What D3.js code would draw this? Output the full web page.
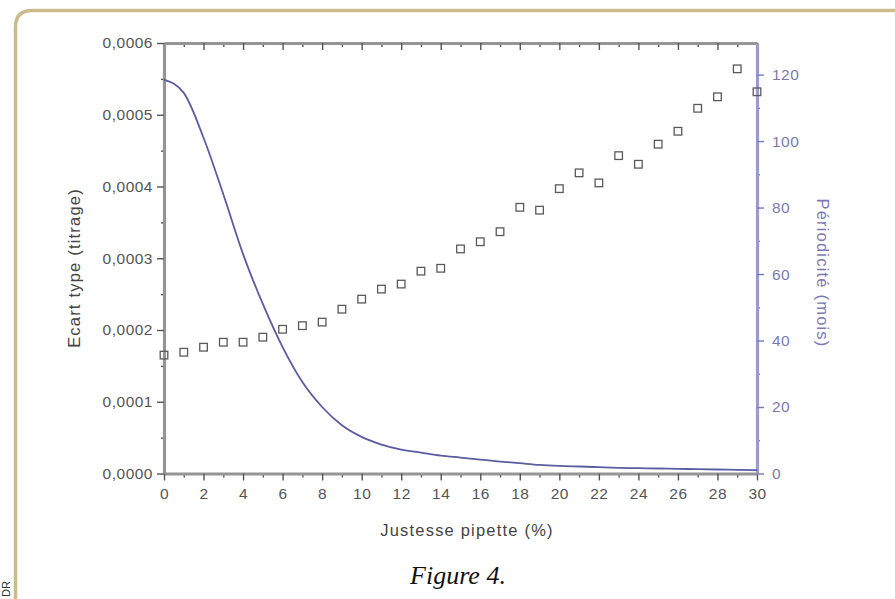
<!DOCTYPE html>
<html>
<head>
<meta charset="utf-8">
<script src="https://cdn.jsdelivr.net/npm/d3@7"></script>
<style>
  body { margin: 0; background: #fff; }
  svg { display: block; font-family: Arial, "Liberation Sans", sans-serif; }
</style>
</head>
<body>
<div id="chart"></div>
<script>
// justesse pipette (%), 0..30
const justesse = d3.range(0, 31);
// ecart type (titrage) - squares, left axis
const ecartType = [0.000165, 0.000169, 0.000176, 0.000183, 0.000183, 0.000190, 0.000201,
  0.000206, 0.000211, 0.000229, 0.000243, 0.000257, 0.000264, 0.000282, 0.000286,
  0.000313, 0.000323, 0.000337, 0.000371, 0.000367, 0.000397, 0.000419, 0.000405,
  0.000443, 0.000431, 0.000459, 0.000477, 0.000509, 0.000525, 0.000564, 0.000532];
// periodicite (mois) - line, right axis
const periodicite = [118.5, 114.5, 101, 84, 66, 51, 38, 27.5, 20, 14.5, 11, 8.7, 7.2, 6.3, 5.4,
  4.8, 4.2, 3.6, 3.1, 2.6, 2.3, 2.1, 1.9, 1.7, 1.6, 1.5, 1.4, 1.3, 1.2, 1.1, 1.0];

const xTicks = d3.range(0, 31, 2);
const leftTicks = [0, 0.0001, 0.0002, 0.0003, 0.0004, 0.0005, 0.0006];
const rightTicks = [0, 20, 40, 60, 80, 100, 120];

var width = 895, height = 599;
var svg = d3.select("#chart").append("svg")
    .attr("width", width)
    .attr("height", height);

// tan frame, only the top-left corner is visible
svg.append("path")
    .attr("d", "M15.5,599 L15.5,27 Q15.5,10.5 32,10.5 L895,10.5")
    .attr("fill", "none")
    .attr("stroke", "#cbbb8f")
    .attr("stroke-width", 3.5);

var x = d3.scaleLinear().domain([0, 30]).range([164, 757]);
var yL = d3.scaleLinear().domain([0, 0.0006]).range([473.5, 43]);
var yR = d3.scaleLinear().domain([0, 129.5]).range([473.5, 43]);

var grey = "#959595", blue = "#9c9ccc", blueTxt = "#7a7ab2";

function styleAxis(g, col, txtCol) {
  g.select(".domain").attr("stroke", col).attr("stroke-width", 3.2);
  g.selectAll(".tick line").attr("stroke", "#555").attr("stroke-width", 1.4);
  g.selectAll(".tick text").attr("fill", txtCol)
    .style("font-size", "15.5px").style("letter-spacing", "0.5px");
}
function minor(g, col) {
  g.select(".domain").remove();
  g.selectAll("line").attr("stroke", col).attr("stroke-width", 1.4);
}

// minor ticks first (drawn under the main axes)
svg.append("g").attr("transform", "translate(0,473.5)")
    .call(d3.axisBottom(x).tickValues(d3.range(1, 30, 2)).tickSize(4).tickFormat(""))
    .call(g => minor(g, "#555"));
svg.append("g").attr("transform", "translate(0,43)")
    .call(d3.axisBottom(x).tickValues(d3.range(1, 30, 2)).tickSize(4).tickFormat(""))
    .call(g => minor(g, "#555"));
svg.append("g").attr("transform", "translate(164,0)")
    .call(d3.axisLeft(yL).tickValues(d3.range(0.00005, 0.0006, 0.0001)).tickSize(3).tickFormat(""))
    .call(g => minor(g, "#555"));
svg.append("g").attr("transform", "translate(757,0)")
    .call(d3.axisRight(yR).tickValues([10, 30, 50, 70, 90, 110]).tickSize(3).tickFormat(""))
    .call(g => minor(g, blueTxt));

// top axis
svg.append("g").attr("transform", "translate(0,43)")
    .call(d3.axisBottom(x).tickValues(xTicks).tickSize(7).tickSizeOuter(0).tickFormat(""))
    .call(g => styleAxis(g, grey, "#555"));

// bottom axis
svg.append("g").attr("transform", "translate(0,473.5)")
    .call(d3.axisBottom(x).tickValues(xTicks).tickSize(7).tickSizeOuter(0).tickPadding(7))
    .call(g => styleAxis(g, grey, "#555"));

// left axis
svg.append("g").attr("transform", "translate(164,0)")
    .call(d3.axisLeft(yL).tickValues(leftTicks).tickSize(7).tickSizeOuter(0).tickPadding(4)
      .tickFormat(d => d3.format(".4f")(d).replace(".", ",")))
    .call(g => styleAxis(g, grey, "#555"));

// right axis
svg.append("g").attr("transform", "translate(757,0)")
    .call(d3.axisRight(yR).tickValues(rightTicks).tickSize(7).tickSizeOuter(0).tickPadding(8))
    .call(g => styleAxis(g, blue, blueTxt))
    .call(g => g.selectAll(".tick line").attr("stroke", blueTxt));

// periodicite line
var line = d3.line()
    .x((d, i) => x(justesse[i]))
    .y(d => yR(d))
    .curve(d3.curveMonotoneX);
svg.append("path")
    .datum(periodicite)
    .attr("d", line)
    .attr("fill", "none")
    .attr("stroke", "#5c5ca3")
    .attr("stroke-width", 1.8);

// ecart type squares
svg.selectAll(".pt")
    .data(ecartType)
    .enter()
    .append("rect")
    .attr("class", "pt")
    .attr("x", (d, i) => x(justesse[i]) - 3.8)
    .attr("y", d => yL(d) - 3.8)
    .attr("width", 7.6)
    .attr("height", 7.6)
    .attr("fill", "none")
    .attr("stroke", "#5a5a5a")
    .attr("stroke-width", 1.3);

// labels
svg.append("text")
    .text("Ecart type (titrage)")
    .attr("transform", "translate(80,268) rotate(-90)")
    .attr("text-anchor", "middle")
    .attr("fill", "#444")
    .style("font-size", "16.5px")
    .style("letter-spacing", "1.2px");
svg.append("text")
    .text("Périodicité (mois)")
    .attr("transform", "translate(817,273) rotate(90)")
    .attr("text-anchor", "middle")
    .attr("fill", blueTxt)
    .style("font-size", "16.5px")
    .style("letter-spacing", "1.2px");
svg.append("text")
    .text("Justesse pipette (%)")
    .attr("x", 467)
    .attr("y", 536)
    .attr("text-anchor", "middle")
    .attr("fill", "#444")
    .style("font-size", "16.5px")
    .style("letter-spacing", "1.2px");
svg.append("text")
    .text("Figure 4.")
    .attr("x", 458)
    .attr("y", 584)
    .attr("text-anchor", "middle")
    .attr("fill", "#111")
    .style("font-family", "'Liberation Serif', 'DejaVu Serif', serif")
    .style("font-style", "italic")
    .style("font-size", "26px");
svg.append("text")
    .text("DR")
    .attr("transform", "translate(10,597) rotate(-90)")
    .attr("fill", "#333")
    .style("font-size", "11px");
</script>
</body>
</html>
